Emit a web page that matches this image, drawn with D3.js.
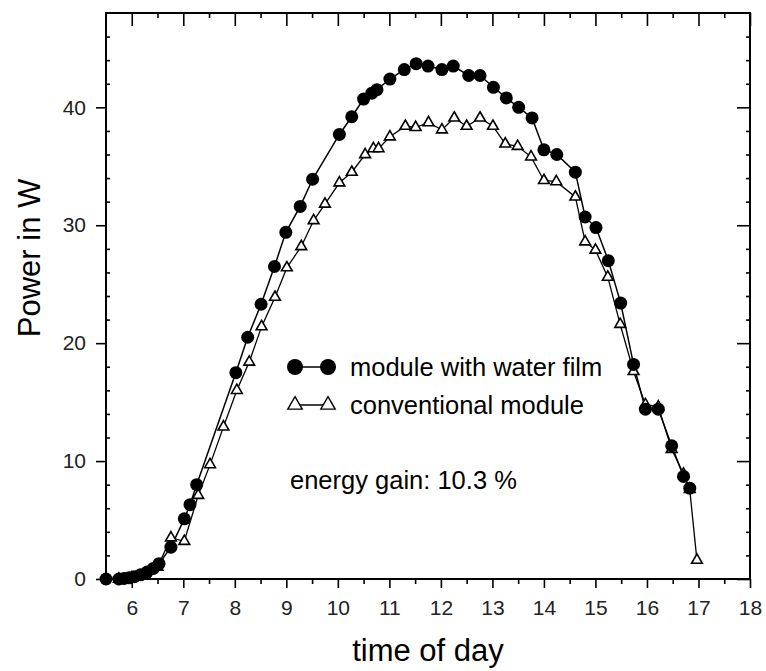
<!DOCTYPE html>
<html><head><meta charset="utf-8">
<script src="https://cdn.jsdelivr.net/npm/d3@7"></script>
<style>body{margin:0;background:#fff;}svg{display:block;}</style>
</head><body>
<svg id="c" width="766" height="671"></svg>
<script>
const waterHours = [5.5,5.75,5.85,5.95,6.05,6.17,6.3,6.42,6.53,6.76,7.02,7.13,7.26,8.02,8.25,8.51,8.77,8.99,9.27,9.51,10.03,10.27,10.5,10.66,10.76,11.01,11.29,11.52,11.75,12.02,12.24,12.54,12.76,13.02,13.27,13.51,13.77,14.0,14.25,14.61,14.8,15.01,15.25,15.49,15.74,15.97,16.22,16.48,16.71,16.83];
const waterPower = [0,0,0.05,0.1,0.2,0.35,0.6,0.9,1.3,2.7,5.1,6.3,8.0,17.5,20.5,23.3,26.5,29.4,31.6,33.9,37.7,39.2,40.7,41.2,41.5,42.4,43.2,43.7,43.5,43.2,43.5,42.7,42.7,41.7,40.8,40.0,39.1,36.4,36.0,34.5,30.7,29.8,27.0,23.4,18.2,14.4,14.4,11.3,8.7,7.7];
const convHours = [5.75,6.0,6.25,6.5,6.76,7.02,7.29,7.52,7.78,8.04,8.28,8.52,8.78,9.01,9.29,9.53,9.75,10.03,10.27,10.53,10.69,10.79,11.01,11.31,11.51,11.76,12.02,12.26,12.5,12.76,13.01,13.25,13.49,13.75,14.0,14.24,14.61,14.8,15.0,15.24,15.48,15.74,15.97,16.22,16.48,16.71,16.83,16.97];
const convPower = [0,0.1,0.4,1.0,3.5,3.2,7.1,9.7,12.9,16.0,18.4,21.4,23.9,26.4,28.2,30.4,31.8,33.6,34.5,36.0,36.5,36.5,37.5,38.4,38.3,38.7,38.1,39.1,38.4,39.1,38.4,36.9,36.7,35.8,33.8,33.7,32.4,28.6,27.9,25.6,21.6,17.6,14.8,14.6,11.0,8.9,7.6,1.6];
const xTicks = [6,7,8,9,10,11,12,13,14,15,16,17,18];
const xMinor = [6.5,7.5,8.5,9.5,10.5,11.5,12.5,13.5,14.5,15.5,16.5,17.5];
const yTicks = [0,10,20,30,40];
const yMinor = [2,4,6,8,12,14,16,18,22,24,26,28,32,34,36,38,42,44,46];
const legendLabels = ["module with water film","conventional module"];
const gainText = "energy gain: 10.3 %";
const xTitle = "time of day", yTitle = "Power in W";

const L=106,R=750,T=13,B=579;
const svg=d3.select("#c");
const x=d3.scaleLinear().domain([5.5,18]).range([L,R]);
const y=d3.scaleLinear().domain([0,48]).range([B,T]);
const font="'Liberation Sans', Arial, Helvetica, sans-serif";

function ax(g){g.select(".domain").remove();g.selectAll("line").attr("stroke","#000").attr("stroke-width",1.6);}
// bottom
svg.append("g").attr("transform",`translate(0,${B})`).call(d3.axisBottom(x).tickValues(xTicks).tickSize(9).tickPadding(12).tickFormat(d3.format("d")))
 .call(ax).selectAll("text").attr("font-family",font).attr("font-size",21).attr("fill","#222");
svg.append("g").attr("transform",`translate(0,${B})`).call(d3.axisBottom(x).tickValues(xMinor).tickSize(5).tickFormat("")).call(ax);
// top
svg.append("g").attr("transform",`translate(0,${T})`).call(d3.axisBottom(x).tickValues(xTicks).tickSize(13).tickFormat("")).call(ax);
svg.append("g").attr("transform",`translate(0,${T})`).call(d3.axisBottom(x).tickValues(xMinor).tickSize(5).tickFormat("")).call(ax);
// left
svg.append("g").attr("transform",`translate(${L},0)`).call(d3.axisLeft(y).tickValues(yTicks).tickSize(10).tickPadding(10).tickFormat(d3.format("d")))
 .call(ax).selectAll("text").attr("font-family",font).attr("font-size",21).attr("fill","#222");
svg.append("g").attr("transform",`translate(${L},0)`).call(d3.axisRight(y).tickValues(yMinor).tickSize(4).tickFormat("")).call(ax);
// right
svg.append("g").attr("transform",`translate(${R},0)`).call(d3.axisLeft(y).tickValues(yTicks).tickSize(13).tickFormat("")).call(ax);
svg.append("g").attr("transform",`translate(${R},0)`).call(d3.axisLeft(y).tickValues(yMinor).tickSize(4).tickFormat("")).call(ax);
// frame
svg.append("rect").attr("x",L).attr("y",T).attr("width",R-L).attr("height",B-T).attr("fill","none").attr("stroke","#000").attr("stroke-width",2);

const water=waterHours.map((h,i)=>({h,p:waterPower[i]}));
const conv=convHours.map((h,i)=>({h,p:convPower[i]}));
const line=d3.line().x(d=>x(d.h)).y(d=>y(d.p));
svg.append("path").datum(conv).attr("d",line).attr("fill","none").attr("stroke","#000").attr("stroke-width",1.3);
svg.append("path").datum(water).attr("d",line).attr("fill","none").attr("stroke","#000").attr("stroke-width",1.5);
const tri=d3.symbol().type(d3.symbolTriangle).size(50);
svg.append("g").selectAll("path").data(conv).join("path").attr("d",tri)
 .attr("transform",d=>`translate(${x(d.h)},${y(d.p)})`).attr("fill","#fff").attr("stroke","#000").attr("stroke-width",1.6);
svg.append("g").selectAll("circle").data(water).join("circle")
 .attr("cx",d=>x(d.h)).attr("cy",d=>y(d.p)).attr("r",6.5).attr("fill","#000");

// legend
const lg=svg.append("g");
const lx1=295,lx2=328,ly1=367,ly2=405,tx=350;
lg.append("line").attr("x1",lx1).attr("x2",lx2).attr("y1",ly1).attr("y2",ly1).attr("stroke","#000").attr("stroke-width",1.5);
[lx1,lx2].forEach(v=>lg.append("circle").attr("cx",v).attr("cy",ly1).attr("r",8).attr("fill","#000"));
lg.append("line").attr("x1",lx1).attr("x2",lx2).attr("y1",ly2).attr("y2",ly2).attr("stroke","#000").attr("stroke-width",1.3);
const tri2=d3.symbol().type(d3.symbolTriangle).size(90);
[lx1,lx2].forEach(v=>lg.append("path").attr("d",tri2).attr("transform",`translate(${v},${ly2})`).attr("fill","#fff").attr("stroke","#000").attr("stroke-width",1.4));
lg.selectAll("text.l").data(legendLabels).join("text").attr("class","l")
 .attr("x",tx).attr("y",(d,i)=>[ly1,ly2][i]+9).text(d=>d)
 .attr("font-family",font).attr("font-size",25.5).attr("fill","#000");
svg.append("text").attr("x",290).attr("y",489).text(gainText).attr("font-family",font).attr("font-size",25.5).attr("fill","#000");

svg.append("text").attr("x",(L+R)/2).attr("y",661).attr("text-anchor","middle").text(xTitle)
 .attr("font-family",font).attr("font-size",31).attr("fill","#000");
svg.append("text").attr("transform",`translate(40,${(T+B)/2-38}) rotate(-90)`).attr("text-anchor","middle").text(yTitle)
 .attr("font-family",font).attr("font-size",31).attr("fill","#000");
</script>
</body></html>
